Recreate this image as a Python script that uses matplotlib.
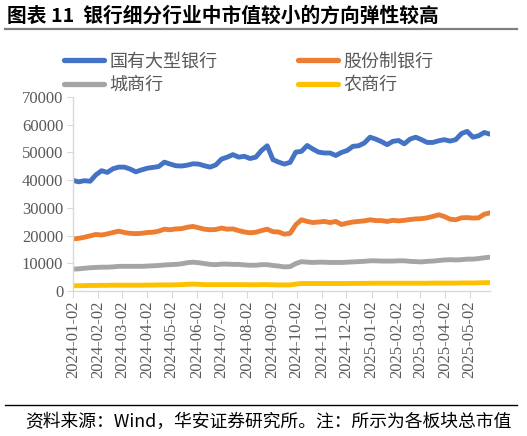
import matplotlib
matplotlib.use("Agg")
import matplotlib.pyplot as plt
from matplotlib.lines import Line2D
import numpy as np
import pandas as pd

CJK = ['Noto Sans CJK SC', 'DejaVu Sans']
SERIF = ['Liberation Serif', 'DejaVu Serif']

# ---- data (weekly readings, 100M yuan) ----
start_date = "2024-01-02"
n_points = 74
dates = pd.date_range(start_date, periods=n_points, freq="7D")

big_banks = [39900, 39400, 39800, 39600, 41900, 43400, 42800, 44100, 44700, 44700,
             44000, 43000, 43700, 44300, 44600, 44900, 46500, 45800, 45200, 45100,
             45400, 45900, 45800, 45200, 44700, 45500, 47600, 48300, 49200, 48300,
             48600, 47800, 48300, 50700, 52400, 47400, 46500, 45800, 46400, 50100,
             50400, 52500, 51200, 50100, 49800, 49800, 48900, 50000, 50700, 52200,
             52400, 53400, 55500, 54800, 53900, 52800, 54000, 54300, 53100, 54800,
             55500, 54600, 53600, 53600, 54200, 54600, 54100, 54600, 56800, 57600,
             55500, 56000, 57200, 56600]

joint_stock = [18800, 19000, 19400, 19900, 20400, 20200, 20600, 21100, 21600, 21100,
               20800, 20700, 20800, 21100, 21200, 21600, 22300, 22100, 22400, 22500,
               23000, 23300, 22800, 22300, 22100, 22200, 22700, 22300, 22400, 21800,
               21300, 21000, 21200, 21800, 22300, 21400, 21300, 20500, 20800, 23900,
               25700, 25100, 24700, 24900, 25100, 24700, 25100, 24000, 24500, 24900,
               25100, 25300, 25700, 25400, 25400, 25100, 25500, 25300, 25500, 25800,
               26000, 26100, 26400, 26900, 27500, 26900, 25900, 25700, 26400, 26500,
               26300, 26400, 27700, 28200]

city_banks = [7900, 8000, 8200, 8400, 8500, 8600, 8600, 8700, 8900, 8900,
              8900, 8900, 8900, 9000, 9100, 9200, 9400, 9500, 9600, 9800,
              10200, 10400, 10200, 9900, 9600, 9500, 9700, 9700, 9600, 9600,
              9400, 9300, 9300, 9500, 9500, 9200, 9000, 8700, 8800, 9900,
              10600, 10400, 10300, 10400, 10400, 10300, 10300, 10300, 10400, 10500,
              10600, 10700, 10900, 10900, 10800, 10800, 10800, 10900, 10900, 10700,
              10600, 10500, 10700, 10800, 11000, 11200, 11300, 11200, 11300, 11500,
              11500, 11700, 12000, 12200]

rural_banks = [1900, 1900, 1950, 2000, 2000, 2050, 2050, 2100, 2100, 2100,
               2100, 2100, 2100, 2150, 2150, 2200, 2200, 2200, 2250, 2300,
               2400, 2500, 2400, 2300, 2300, 2300, 2300, 2300, 2300, 2300,
               2300, 2250, 2250, 2300, 2300, 2250, 2200, 2200, 2200, 2500,
               2700, 2700, 2700, 2700, 2700, 2700, 2700, 2700, 2700, 2750,
               2750, 2750, 2800, 2800, 2800, 2800, 2800, 2800, 2800, 2800,
               2800, 2800, 2800, 2850, 2850, 2850, 2850, 2850, 2900, 2900,
               2900, 2950, 3000, 3000]

series_names = ["国有大型银行", "股份制银行", "城商行", "农商行"]
series_values = [big_banks, joint_stock, city_banks, rural_banks]
series_colors = ["#4472C4", "#ED7D31", "#A5A5A5", "#FFC000"]

x_tick_labels = ["2024-01-02", "2024-02-02", "2024-03-02", "2024-04-02", "2024-05-02",
                 "2024-06-02", "2024-07-02", "2024-08-02", "2024-09-02", "2024-10-02",
                 "2024-11-02", "2024-12-02", "2025-01-02", "2025-02-02", "2025-03-02",
                 "2025-04-02", "2025-05-02"]
y_ticks = [0, 10000, 20000, 30000, 40000, 50000, 60000, 70000]

title = "图表 11  银行细分行业中市值较小的方向弹性较高"
source = "资料来源：Wind，华安证券研究所。注：所示为各板块总市值"

# ---- figure ----
W, H = 527, 436
fig = plt.figure(figsize=(W / 100, H / 100), dpi=100)
ax = fig.add_axes([73 / W, 1 - 291 / H, (490 - 73) / W, (291 - 97) / H])

handles = []
for name, vals, col in zip(series_names, series_values, series_colors):
    h, = ax.plot(dates, vals, color=col, lw=3.5, solid_capstyle='round',
                 solid_joinstyle='round', label=name)
    handles.append(h)

ax.set_xlim(dates[0], dates[-1])
ax.set_ylim(0, 70000)
ax.set_yticks(y_ticks)
ax.set_yticklabels([str(v) for v in y_ticks], fontfamily=SERIF, fontsize=12, color="#595959")
tick_dates = pd.to_datetime(x_tick_labels)
ax.set_xticks(tick_dates)
ax.set_xticklabels(x_tick_labels, rotation=90, fontfamily=SERIF, fontsize=12,
                   color="#595959")

for s in ["top", "right"]:
    ax.spines[s].set_visible(False)
ax.spines["left"].set_color("#D9D9D9")
ax.spines["bottom"].set_color("#D9D9D9")
ax.spines["left"].set_linewidth(1.0)
ax.spines["bottom"].set_linewidth(1.0)
ax.tick_params(axis="y", length=4, color="#D9D9D9", pad=3)
ax.tick_params(axis="x", length=5, color="#D9D9D9", pad=2)

# legend: rows (国有大型银行, 股份制银行) / (城商行, 农商行); matplotlib fills by column
order = [0, 2, 1, 3]
leg = fig.legend(handles=[handles[i] for i in order],
                 labels=[series_names[i] for i in order], loc="upper left",
                 bbox_to_anchor=(64 / W, 1 - 52.5 / H), ncol=2, frameon=False,
                 prop={'family': CJK, 'size': 13}, handlelength=2.2,
                 handletextpad=0.3, columnspacing=4.5, labelspacing=0.3,
                 borderpad=0, borderaxespad=0)
for t in leg.get_texts():
    t.set_color("#595959")
for lh in leg.get_lines():
    lh.set_linewidth(3.8)

# title and lines
fig.text(7 / W, 1 - 16 / H, title, fontfamily=CJK, fontsize=14.2, fontweight="bold",
         ha="left", va="center", color="black")
fig.add_artist(Line2D([5 / W, 517 / W], [1 - 29.5 / H, 1 - 29.5 / H],
                      color="#7F7F7F", lw=1.6, transform=fig.transFigure))
fig.add_artist(Line2D([5 / W, 517 / W], [1 - 405 / H, 1 - 405 / H],
                      color="black", lw=1.0, transform=fig.transFigure))
fig.text(25 / W, 1 - 422 / H, source, fontfamily=CJK, fontsize=12.8,
         ha="left", va="center", color="black")

fig.savefig("out.png", dpi=100)
